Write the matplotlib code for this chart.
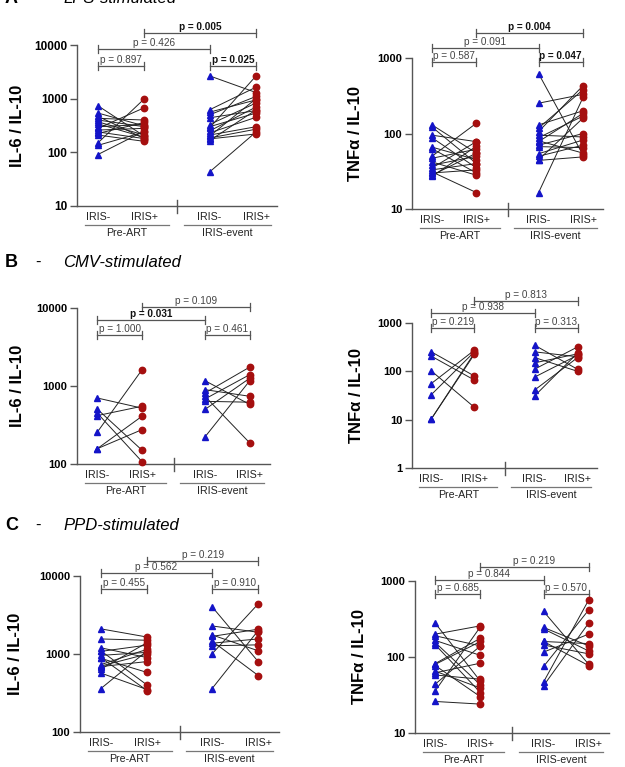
import matplotlib
matplotlib.use("Agg")
import matplotlib.pyplot as plt
import matplotlib.transforms as mtrans
from matplotlib.ticker import LogLocator, NullLocator

plt.rcParams['font.family'] = ['Liberation Sans', 'DejaVu Sans']

W, H, DPI = 625, 767, 100

# ---------------- data ----------------
groups = ["IRIS-", "IRIS+", "IRIS-", "IRIS+"]
timepoints = ["Pre-ART", "IRIS-event"]

# A: LPS, IL-6/IL-10
a1_pre_neg = [738, 540, 470, 430, 400, 370, 340, 300, 280, 260, 240, 225, 210, 150, 135, 91]
a1_pre_pos = [200, 310, 180, 400, 300, 210, 190, 330, 680, 280, 180, 360, 160, 1000, 240, 250]
a1_ev_neg = [2660, 620, 560, 500, 440, 330, 300, 285, 250, 230, 210, 200, 185, 178, 165, 43]
a1_ev_pos = [1300, 1640, 950, 1100, 600, 830, 540, 2660, 700, 450, 300, 1000, 270, 220, 620, 240]
# A: LPS, TNFa/IL-10
a2_pre_neg = [130, 122, 95, 88, 66, 63, 50, 47, 42, 38, 35, 33, 31, 30, 28, 27]
a2_pre_pos = [55, 40, 78, 35, 45, 30, 137, 62, 28, 50, 78, 40, 16.5, 33, 55, 68]
a2_ev_neg = [620, 252, 130, 118, 106, 95, 88, 80, 78, 70, 67, 54, 50, 45, 44, 16.5]
a2_ev_pos = [52, 330, 200, 380, 430, 90, 170, 55, 185, 100, 65, 82, 70, 160, 49, 300]
# B: CMV, IL-6/IL-10
b1_pre_neg = [702, 507, 450, 417, 255, 157, 157]
b1_pre_pos = [520, 150, 107, 550, 1620, 410, 276]
b1_ev_neg = [1170, 898, 813, 738, 681, 636, 500, 222]
b1_ev_pos = [580, 738, 1750, 186, 1400, 620, 1260, 1170]
# B: CMV, TNFa/IL-10
b2_pre_neg = [253, 206, 102, 56, 33, 10.4, 10.4]
b2_pre_pos = [80, 66, 18, 274, 253, 240, 226]
b2_ev_neg = [347, 253, 193, 150, 111, 76, 41, 31]
b2_ev_pos = [110, 200, 100, 230, 320, 216, 193, 240]
# C: PPD, IL-6/IL-10
c1_pre_neg = [2100, 1560, 1200, 1100, 1080, 960, 900, 880, 730, 700, 690, 640, 570, 360]
c1_pre_pos = [1650, 1500, 900, 400, 1300, 1050, 340, 580, 1150, 1000, 800, 1400, 350, 1100]
c1_ev_neg = [4060, 2290, 1760, 1680, 1470, 1375, 1275, 1000, 358]
c1_ev_pos = [800, 1900, 1100, 2080, 530, 1560, 1310, 4390, 2000]
# C: PPD, TNFa/IL-10
c2_pre_neg = [278, 200, 190, 165, 155, 145, 82, 80, 77, 65, 62, 58, 44, 36, 26]
c2_pre_pos = [48, 257, 140, 105, 43, 34, 177, 160, 30, 39, 83, 51, 140, 250, 24]
c2_ev_neg = [398, 245, 234, 160, 144, 116, 75, 47, 42, 160]
c2_ev_pos = [80, 140, 120, 77, 110, 200, 416, 563, 280, 150]

xpos = [0.0, 1.0, 2.4, 3.4]
XLIM = (-0.45, 3.85)
BREAK = 1.7

BLUE = '#1414C8'
RED = '#A50F0F'
GREY = '#555555'


def make_panel(px_rect, ylim, ylabel, data, brackets, ylabel_dx, tickfs=8):
    x0, y0, x1, y1 = px_rect  # pixel coords, origin top-left
    wpx, hpx = x1 - x0, y1 - y0
    ax = fig.add_axes([x0 / W, 1 - y1 / H, wpx / W, hpx / H])
    ax.set_yscale('log')
    ax.set_ylim(*ylim)
    ax.set_xlim(*XLIM)
    ax.set_facecolor('none')
    for s in ['top', 'right']:
        ax.spines[s].set_visible(False)
    for s in ['left', 'bottom']:
        ax.spines[s].set_color(GREY)
        ax.spines[s].set_linewidth(1.0)
    ax.yaxis.set_minor_locator(NullLocator())
    ax.yaxis.set_major_locator(LogLocator(base=10, numticks=10))
    ax.tick_params(axis='y', which='major', length=5, width=1.0, color=GREY,
                   labelsize=tickfs, pad=2)
    ax.yaxis.set_major_formatter(matplotlib.ticker.FuncFormatter(lambda v, p: f"{v:g}"))
    plt.setp(ax.get_yticklabels(), fontweight='bold')
    ax.set_xticks([])

    pre_neg, pre_pos, ev_neg, ev_pos = data
    for (a, b), (xa, xb) in [((pre_neg, pre_pos), (xpos[0], xpos[1])),
                             ((ev_neg, ev_pos), (xpos[2], xpos[3]))]:
        for va, vb in zip(a, b):
            ax.plot([xa, xb], [va, vb], color='#222222', lw=0.7, zorder=2)
        ax.plot([xa] * len(a), a, linestyle='none', marker='^', ms=4.6,
                color=BLUE, mec=BLUE, zorder=3, clip_on=False)
        ax.plot([xb] * len(b), b, linestyle='none', marker='o', ms=4.6,
                color=RED, mec=RED, zorder=3, clip_on=False)

    ax.set_ylabel(ylabel, fontsize=12, fontweight='bold')
    ax.yaxis.set_label_coords(ylabel_dx / wpx, 0.5)

    trans = mtrans.blended_transform_factory(ax.transData, ax.transAxes)

    def fy(d):  # d pixels below the top of the axis
        return 1 - d / hpx

    def fb(d):  # d pixels below the bottom of the axis
        return -d / hpx

    # break marker
    ax.plot([BREAK, BREAK], [fb(-6), fb(7)], transform=trans, color=GREY,
            lw=1.0, clip_on=False)
    # group tick labels
    for x, g in zip(xpos, groups):
        ax.text(x, fb(11), g, transform=trans, ha='center', va='center',
                fontsize=7.7, color='#222222')
    # underline + timepoint labels
    for (xa, xb), t in zip([(-0.28, 1.53), (1.85, 3.72)], timepoints):
        ax.plot([xa, xb], [fb(19), fb(19)], transform=trans, color='#777777',
                lw=0.9, clip_on=False)
        ax.text((xa + xb) / 2, fb(27), t, transform=trans, ha='center',
                va='center', fontsize=7.7, color='#222222')

    # p-value brackets
    for xa, xb, d, txt, bold in brackets:
        col = '#555555'
        ax.plot([xa, xb], [fy(d), fy(d)], transform=trans, color=col, lw=0.9,
                clip_on=False)
        for xx in (xa, xb):
            ax.plot([xx, xx], [fy(d - 4), fy(d + 4)], transform=trans,
                    color=col, lw=0.9, clip_on=False)
        ax.text((xa + xb) / 2, fy(d - 1), txt, transform=trans, ha='center',
                va='bottom', fontsize=7.2,
                fontweight='bold' if bold else 'normal',
                color='#111111' if bold else '#444444')
    return ax


fig = plt.figure(figsize=(W / DPI, H / DPI), dpi=DPI)

# Panel A
make_panel((77, 45, 277, 206), (10, 10000), 'IL-6 / IL-10',
           (a1_pre_neg, a1_pre_pos, a1_ev_neg, a1_ev_pos),
           [(0, 1, 21, 'p = 0.897', False), (2.4, 3.4, 21, 'p = 0.025', True),
            (0, 2.4, 4, 'p = 0.426', False), (1, 3.4, -12, 'p = 0.005', True)],
           -52, tickfs=8.5)
make_panel((412, 58, 603, 209), (10, 1000), 'TNF\u03b1 / IL-10',
           (a2_pre_neg, a2_pre_pos, a2_ev_neg, a2_ev_pos),
           [(0, 1, 4, 'p = 0.587', False), (2.4, 3.4, 4, 'p = 0.047', True),
            (0, 2.4, -10, 'p = 0.091', False), (1, 3.4, -25, 'p = 0.004', True)],
           -49)
# Panel B
make_panel((77, 308, 270, 464), (100, 10000), 'IL-6 / IL-10',
           (b1_pre_neg, b1_pre_pos, b1_ev_neg, b1_ev_pos),
           [(0, 1, 27, 'p = 1.000', False), (2.4, 3.4, 27, 'p = 0.461', False),
            (0, 2.4, 12, 'p = 0.031', True), (1, 3.4, -1, 'p = 0.109', False)],
           -52)
make_panel((412, 323, 597, 468), (1, 1000), 'TNF\u03b1 / IL-10',
           (b2_pre_neg, b2_pre_pos, b2_ev_neg, b2_ev_pos),
           [(0, 1, 5, 'p = 0.219', False), (2.4, 3.4, 5, 'p = 0.313', False),
            (0, 2.4, -10, 'p = 0.938', False), (1, 3.4, -22, 'p = 0.813', False)],
           -48)
# Panel C
make_panel((80, 576, 279, 732), (100, 10000), 'IL-6 / IL-10',
           (c1_pre_neg, c1_pre_pos, c1_ev_neg, c1_ev_pos),
           [(0, 1, 13, 'p = 0.455', False), (2.4, 3.4, 13, 'p = 0.910', False),
            (0, 2.4, -3, 'p = 0.562', False), (1, 3.4, -15, 'p = 0.219', False)],
           -57)
make_panel((415, 581, 609, 733), (10, 1000), 'TNF\u03b1 / IL-10',
           (c2_pre_neg, c2_pre_pos, c2_ev_neg, c2_ev_pos),
           [(0, 1, 13, 'p = 0.685', False), (2.4, 3.4, 13, 'p = 0.570', False),
            (0, 2.4, -1, 'p = 0.844', False), (1, 3.4, -14, 'p = 0.219', False)],
           -48)

# panel headings (panel A heading is cropped at the top edge, as in the reference)
for letter, title, ybase in [('A', 'LPS-stimulated', 3), ('B', 'CMV-stimulated', 267),
                             ('C', 'PPD-stimulated', 530)]:
    yf = 1 - ybase / H
    fig.text(5 / W, yf, letter, fontsize=13, fontweight='bold', va='baseline', ha='left')
    fig.text(35 / W, yf, '-', fontsize=12, va='baseline', ha='left')
    fig.text(63 / W, yf, title, fontsize=12, fontstyle='italic', va='baseline', ha='left')

fig.savefig('out.png', dpi=DPI)
